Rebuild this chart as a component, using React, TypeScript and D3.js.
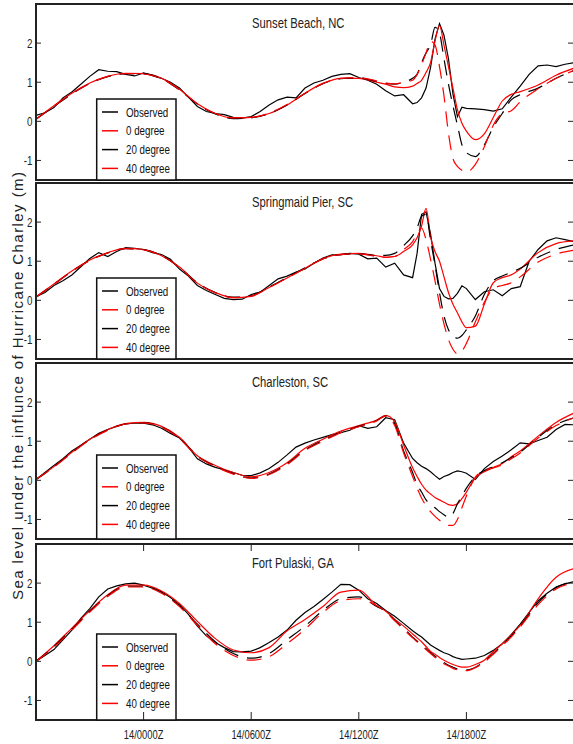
import React from 'react';
import * as d3 from 'd3';

// ---------- data ----------
const HOURS_OBS = [-6,-5.5,-5,-4.5,-4,-3.5,-3,-2.5,-2,-1.5,-1,-0.5,0,0.5,1,1.5,2,2.5,3,3.5,4,4.5,5,5.5,6,6.5,7,7.5,8,8.5,9,9.5,10,10.5,11,11.5,12,12.5,13,13.5,14,14.5,15,15.25,15.5,15.75,16,16.25,16.5,16.75,17,17.25,17.5,17.75,18,18.5,19,19.5,20,20.5,21,21.5,22,22.5,23,23.5,24];
const HOURS_MODEL = [-6,-5,-4,-3,-2,-1,0,1,2,3,4,5,6,7,8,9,10,11,12,13,13.5,14,14.5,15,15.25,15.5,15.75,16,16.25,16.5,16.75,17,17.25,17.5,17.75,18,18.5,19,19.5,20,20.5,21,22,23,24];

const TITLES = ['Sunset Beach, NC', 'Springmaid Pier, SC', 'Charleston, SC', 'Fort Pulaski, GA'];
const SERIES_NAMES = ['Observed', '0 degree', '20 degree', '40 degree'];
const Y_TICKS = [-1, 0, 1, 2];
const X_TICKS = [0, 6, 12, 18];
const X_TICK_LABELS = ['14/0000Z', '14/0600Z', '14/1200Z', '14/1800Z'];
const Y_LABEL = 'Sea level under the influnce of Hurricane Charley (m)';

const sunsetObs = [0.15,0.22,0.35,0.6,0.75,0.95,1.15,1.32,1.28,1.27,1.2,1.16,1.24,1.17,1.1,1.0,0.85,0.62,0.38,0.25,0.2,0.17,0.1,0.08,0.12,0.25,0.42,0.55,0.62,0.6,0.85,0.98,1.05,1.15,1.2,1.22,1.12,1.05,0.95,0.78,0.65,0.68,0.45,0.48,0.6,0.85,1.37,2.1,2.5,2.2,1.6,0.7,0.12,0.36,0.33,0.32,0.3,0.26,0.32,0.62,0.9,1.2,1.42,1.44,1.4,1.46,1.5];
const sunset0 = [0.06,0.4,0.72,0.98,1.15,1.23,1.22,1.1,0.82,0.45,0.2,0.08,0.1,0.2,0.42,0.72,0.97,1.1,1.1,1.0,0.95,0.88,0.86,0.9,0.97,1.05,1.25,1.5,2.05,2.45,1.95,1.4,0.85,0.3,-0.05,-0.25,-0.47,-0.32,0.1,0.52,0.69,0.76,0.93,1.18,1.36];
const sunset20 = [0.05,0.38,0.7,0.97,1.14,1.22,1.22,1.09,0.8,0.44,0.19,0.07,0.09,0.2,0.42,0.71,0.96,1.09,1.11,1.02,0.97,0.95,1.0,1.1,1.2,1.5,1.75,1.95,2.4,2.25,1.6,0.95,0.4,-0.1,-0.6,-0.8,-0.9,-0.6,-0.15,0.2,0.55,0.68,0.85,1.1,1.3];
const sunset40 = [0.05,0.39,0.71,0.97,1.15,1.22,1.21,1.09,0.81,0.45,0.2,0.09,0.1,0.21,0.43,0.72,0.97,1.1,1.12,1.03,0.98,0.96,1.0,1.05,1.2,1.45,1.75,2.05,1.95,1.4,0.65,-0.3,-0.95,-1.15,-1.25,-1.3,-1.1,-0.65,-0.1,0.2,0.27,0.5,0.83,1.1,1.3];

const springObs = [0.09,0.2,0.38,0.5,0.65,0.86,1.07,1.22,1.12,1.25,1.35,1.33,1.3,1.22,1.17,1.05,0.8,0.62,0.38,0.25,0.15,0.05,0.02,0.03,0.15,0.21,0.38,0.55,0.62,0.72,0.8,0.95,1.08,1.16,1.17,1.2,1.18,1.06,1.08,0.85,0.95,0.65,0.58,1.2,2.2,2.26,1.7,0.95,0.3,0.1,0.04,0.05,0.18,0.37,0.3,0.02,0.22,0.27,0.12,0.3,0.35,1.0,1.3,1.52,1.6,1.55,1.5];
const spring0 = [0.09,0.42,0.75,1.03,1.22,1.33,1.3,1.14,0.85,0.44,0.2,0.07,0.1,0.33,0.57,0.82,1.07,1.18,1.2,1.14,1.1,1.12,1.25,1.42,1.6,1.9,2.35,1.62,1.25,1.0,0.6,0.2,-0.1,-0.32,-0.55,-0.7,-0.66,-0.1,0.45,0.58,0.65,0.8,1.22,1.45,1.52];
const spring20 = [0.08,0.41,0.74,1.02,1.21,1.32,1.3,1.15,0.84,0.45,0.2,0.08,0.12,0.34,0.58,0.83,1.06,1.17,1.19,1.15,1.15,1.2,1.4,1.65,1.85,2.15,2.2,1.55,0.9,0.2,-0.4,-0.75,-0.9,-0.97,-0.9,-0.75,-0.4,0.15,0.5,0.62,0.72,0.82,1.1,1.3,1.42];
const spring40 = [0.08,0.41,0.74,1.02,1.21,1.32,1.29,1.14,0.84,0.44,0.19,0.07,0.11,0.33,0.57,0.82,1.06,1.17,1.19,1.12,1.1,1.12,1.3,1.5,1.7,1.85,1.55,1.05,0.5,-0.1,-0.6,-1.0,-1.25,-1.37,-1.3,-1.1,-0.55,-0.05,0.3,0.38,0.45,0.6,0.98,1.18,1.28];

const charlObs = [0.02,0.2,0.38,0.55,0.75,0.9,1.05,1.2,1.3,1.38,1.45,1.46,1.46,1.42,1.33,1.2,1.08,0.85,0.55,0.42,0.33,0.27,0.2,0.13,0.12,0.19,0.3,0.46,0.65,0.85,0.95,1.03,1.1,1.17,1.22,1.28,1.4,1.33,1.37,1.6,1.55,0.95,0.56,0.45,0.36,0.3,0.22,0.12,0.03,0.1,0.14,0.2,0.24,0.22,0.18,0.02,0.3,0.48,0.62,0.78,0.96,0.93,1.02,1.1,1.3,1.43,1.42];
const charl0 = [0.02,0.35,0.72,1.05,1.3,1.45,1.48,1.38,1.1,0.63,0.38,0.2,0.09,0.2,0.45,0.82,1.05,1.26,1.4,1.54,1.66,1.5,0.9,0.32,0.1,-0.1,-0.25,-0.35,-0.44,-0.5,-0.56,-0.62,-0.64,-0.6,-0.47,-0.3,0.07,0.22,0.33,0.43,0.6,0.75,1.13,1.48,1.72];
const charl20 = [0.02,0.35,0.71,1.04,1.29,1.44,1.47,1.37,1.08,0.62,0.36,0.17,0.06,0.16,0.42,0.78,1.02,1.23,1.38,1.53,1.65,1.45,0.75,0.2,-0.1,-0.3,-0.5,-0.62,-0.7,-0.8,-0.88,-0.95,-0.85,-0.6,-0.4,-0.2,0.1,0.25,0.35,0.45,0.58,0.72,1.1,1.42,1.6];
const charl40 = [0.02,0.34,0.7,1.03,1.28,1.44,1.47,1.36,1.07,0.61,0.35,0.16,0.05,0.15,0.4,0.76,1.0,1.22,1.37,1.52,1.65,1.4,0.7,0.1,-0.2,-0.45,-0.65,-0.8,-0.92,-1.02,-1.1,-1.15,-1.15,-1.0,-0.7,-0.4,0.08,0.25,0.32,0.4,0.55,0.7,1.08,1.4,1.6];

const pulaskiObs = [0.0,0.15,0.3,0.55,0.8,1.1,1.35,1.65,1.85,1.93,1.98,2.0,1.95,1.87,1.78,1.63,1.45,1.2,0.9,0.65,0.48,0.35,0.25,0.24,0.26,0.35,0.48,0.62,0.8,1.05,1.25,1.4,1.58,1.77,1.97,1.96,1.82,1.6,1.48,1.3,1.15,0.97,0.78,0.7,0.62,0.52,0.42,0.35,0.28,0.22,0.18,0.12,0.08,0.05,0.06,0.08,0.15,0.28,0.45,0.68,0.95,1.25,1.55,1.74,1.9,1.98,2.04];
const pulaski0 = [0.0,0.4,0.85,1.3,1.7,1.95,1.95,1.8,1.48,1.02,0.58,0.29,0.22,0.35,0.78,1.07,1.4,1.77,1.82,1.42,1.28,1.08,0.9,0.7,0.6,0.5,0.38,0.25,0.18,0.1,0.03,-0.03,-0.08,-0.12,-0.15,-0.15,-0.08,0.03,0.25,0.45,0.68,0.92,1.6,2.15,2.37];
const pulaski20 = [0.0,0.38,0.82,1.28,1.68,1.92,1.92,1.76,1.42,0.95,0.5,0.2,0.08,0.2,0.55,0.9,1.3,1.6,1.65,1.4,1.28,1.05,0.85,0.62,0.52,0.42,0.32,0.22,0.13,0.05,-0.03,-0.1,-0.15,-0.2,-0.22,-0.22,-0.15,0.0,0.2,0.42,0.65,0.9,1.5,1.88,2.05];
const pulaski40 = [0.0,0.36,0.8,1.26,1.66,1.9,1.9,1.74,1.4,0.92,0.45,0.15,0.03,0.12,0.45,0.82,1.25,1.55,1.6,1.42,1.27,1.04,0.82,0.6,0.5,0.4,0.3,0.2,0.1,0.02,-0.06,-0.12,-0.18,-0.22,-0.24,-0.24,-0.16,-0.02,0.18,0.4,0.62,0.88,1.45,1.85,2.0];

// ---------- styles / layout ----------
const SERIES_COLORS = ['#000000', '#ff0000', '#000000', '#ff0000'];
const SERIES_DASH = ['none', 'none', '15,9', '15,9'];
const FONT = "'Liberation Sans', Arial, sans-serif";
const W = 573, H = 744;
const PLOT_LEFT = 36, PLOT_RIGHT = 574;
const PANEL_TOPS = [4, 183, 363, 544];
const PANEL_H = 176;
const LEGEND_OFFSETS = [95, 95, 92, 90];
const SX = 0.75;

export default function App() {
  const x = d3.scaleLinear().domain([-6, 24]).range([PLOT_LEFT, PLOT_RIGHT]);
  const obsList = [sunsetObs, springObs, charlObs, pulaskiObs];
  const m0 = [sunset0, spring0, charl0, pulaski0];
  const m20 = [sunset20, spring20, charl20, pulaski20];
  const m40 = [sunset40, spring40, charl40, pulaski40];

  return (
    <svg width={W} height={H} style={{ position: 'absolute', left: 0, top: 0, background: '#fff' }} fontFamily={FONT}>
      <rect x={0} y={0} width={W} height={H} fill="#fff" />
      {PANEL_TOPS.map((top, p) => {
        const y = d3.scaleLinear().domain([-1.5, 3]).range([top + PANEL_H, top]);
        const obsLine = d3.line<number>().x((_, i) => x(HOURS_OBS[i])).y((d) => y(d));
        const modelLine = d3.line<number>().x((_, i) => x(HOURS_MODEL[i])).y((d) => y(d)).curve(d3.curveMonotoneX);
        const series = [obsLine(obsList[p]), modelLine(m0[p]), modelLine(m20[p]), modelLine(m40[p])];
        const clipId = `clip${p}`;
        const legTop = top + LEGEND_OFFSETS[p];
        const legBottom = top + PANEL_H;
        return (
          <g key={p}>
            <defs>
              <clipPath id={clipId}>
                <rect x={PLOT_LEFT} y={top} width={PLOT_RIGHT - PLOT_LEFT} height={PANEL_H} />
              </clipPath>
            </defs>
            <g clipPath={`url(#${clipId})`}>
              {series.map((d, s) => (
                <path key={s} d={d || ''} fill="none" stroke={SERIES_COLORS[s]} strokeWidth={1.2}
                  strokeDasharray={SERIES_DASH[s]} />
              ))}
            </g>
            {/* y ticks */}
            {Y_TICKS.map((t) => (
              <g key={t}>
                <line x1={PLOT_LEFT} x2={PLOT_LEFT + 5} y1={y(t)} y2={y(t)} stroke="#222" strokeWidth={1} />
                <line x1={PLOT_RIGHT - 6} x2={PLOT_RIGHT} y1={y(t)} y2={y(t)} stroke="#222" strokeWidth={1} />
                <text transform={`translate(32.5,${y(t) + 4.5}) scale(${SX},1)`} textAnchor="end" fontSize={13} fill="#222">
                  {t}
                </text>
              </g>
            ))}
            {/* title */}
            <text transform={`translate(252,${top + 24}) scale(${SX},1)`} fontSize={15} fill="#222">
              {TITLES[p]}
            </text>
            {/* frame */}
            <rect x={PLOT_LEFT} y={top} width={PLOT_RIGHT - PLOT_LEFT} height={PANEL_H} fill="none" stroke="#222" strokeWidth={2} />
            {/* legend */}
            <rect x={96.7} y={legTop} width={79.3} height={legBottom - legTop} fill="#fff" stroke="#111" strokeWidth={1.5} />
            {SERIES_NAMES.map((name, s) => {
              const ry = legTop + 13 + s * 18.8;
              return (
                <g key={name}>
                  <line x1={102} x2={118} y1={ry} y2={ry} stroke={SERIES_COLORS[s]} strokeWidth={1.5} />
                  <text transform={`translate(126,${ry + 4.5}) scale(${SX},1)`} fontSize={13} fill="#111">
                    {name}
                  </text>
                </g>
              );
            })}
            {p === 3 && X_TICKS.map((t, i) => (
              <g key={t}>
                <line x1={x(t)} x2={x(t)} y1={top + PANEL_H} y2={top + PANEL_H - 8} stroke="#222" strokeWidth={1} />
                <line x1={x(t)} x2={x(t)} y1={top} y2={top + 7} stroke="#222" strokeWidth={1} />
                <text transform={`translate(${x(t)},${top + PANEL_H + 19}) scale(${SX},1)`} textAnchor="middle" fontSize={12.5} fill="#222">
                  {X_TICK_LABELS[i]}
                </text>
              </g>
            ))}
          </g>
        );
      })}
      <text transform="translate(23,386) rotate(-90)" textAnchor="middle" fontSize={15} fill="#222"
        textLength={428} lengthAdjust="spacing">
        {Y_LABEL}
      </text>
    </svg>
  );
}
